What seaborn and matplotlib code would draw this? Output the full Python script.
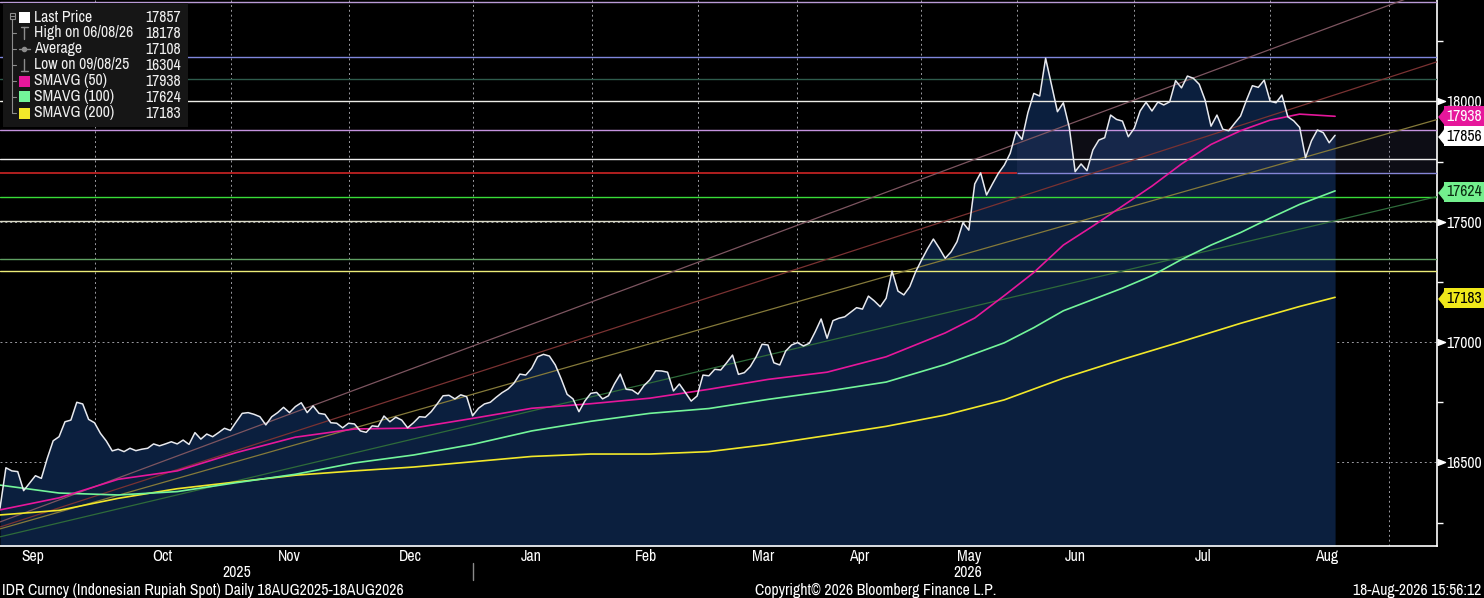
import numpy as np
import matplotlib.pyplot as plt
import matplotlib.transforms as mtransforms
from matplotlib import font_manager as fm
from matplotlib.lines import Line2D
from matplotlib.patches import Rectangle
import seaborn as sns

# IDR spot, one close per trading session
price = [
    16310, 16478, 16465, 16462, 16383, 16414, 16445, 16434, 16517, 16590,
    16607, 16669, 16676, 16750, 16743, 16679, 16665, 16621, 16589, 16548,
    16555, 16545, 16559, 16549, 16555, 16559, 16577, 16569, 16577, 16586,
    16577, 16593, 16575, 16624, 16597, 16618, 16607, 16624, 16642, 16633,
    16669, 16704, 16707, 16700, 16690, 16656, 16690, 16707, 16729, 16707,
    16732, 16748, 16707, 16735, 16704, 16700, 16665, 16663, 16644, 16663,
    16660, 16631, 16625, 16652, 16649, 16693, 16669, 16688, 16676, 16644,
    16665, 16690, 16688, 16711, 16743, 16777, 16779, 16764, 16781,
    16773, 16694, 16725, 16743, 16750, 16771, 16790, 16805, 16829, 16867,
    16863, 16891, 16939, 16949, 16942, 16905, 16847, 16783, 16764, 16711,
    16755, 16787, 16791, 16764, 16777, 16826, 16867, 16804, 16801, 16784,
    16819, 16843, 16881, 16880, 16875, 16797, 16826, 16791, 16755, 16776,
    16863, 16860, 16887, 16884, 16914, 16946, 16866, 16873, 16898, 16939,
    16991, 16988, 16914, 16905, 16963, 16988, 16998, 16984, 16995, 17043,
    17096, 17016, 17089, 17099, 17105, 17124, 17143, 17137, 17191, 17171,
    17147, 17182, 17295, 17212, 17196, 17230, 17292, 17341,
    17387, 17428, 17390, 17348, 17375, 17417, 17496, 17465, 17657, 17703,
    17611, 17657, 17701, 17735, 17784, 17874, 17842, 17953, 18033, 18022,
    18179, 18068, 17957, 17994, 17892, 17708, 17740, 17712, 17798, 17839,
    17849, 17943, 17925, 17918, 17853, 17888, 17960, 17996, 17960, 17997,
    17985, 17998, 18086, 18056, 18105, 18096, 18071, 18005, 17897, 17943,
    17884, 17878, 17909, 17939, 18005, 18065, 18058, 18088, 18001, 17994,
    18026, 17936, 17919, 17892, 17766, 17836, 17881, 17870, 17828, 17859,
]
days = np.arange(len(price))

# moving averages (session, value)
sma50_days = [0, 10, 20, 30, 40, 50, 60, 70, 80, 90, 100, 110, 120, 130, 140,
              150, 160, 165, 170, 175, 180, 185, 190, 195, 200, 205, 210, 215, 220, 226]
sma50 = [16303, 16353, 16430, 16465, 16541, 16605, 16639, 16643, 16683, 16725,
         16744, 16767, 16804, 16845, 16875, 16939, 17038, 17100, 17193, 17289,
         17403, 17482, 17565, 17648, 17740, 17821, 17878, 17922, 17947, 17938]
sma100_days = [0, 10, 20, 30, 40, 50, 60, 70, 80, 90, 100, 110, 120, 130, 140,
               150, 160, 170, 175, 180, 185, 190, 195, 200, 205, 210, 215, 220, 226]
sma100 = [16406, 16373, 16365, 16379, 16416, 16451, 16498, 16531, 16575, 16631,
          16671, 16704, 16724, 16762, 16796, 16834, 16907, 16997, 17060, 17130,
          17177, 17224, 17276, 17343, 17403, 17455, 17515, 17572, 17628]
sma200_days = [0, 10, 20, 30, 40, 50, 60, 70, 80, 90, 100, 110, 120, 130, 140,
               150, 160, 170, 180, 190, 200, 210, 215, 220, 226]
sma200 = [16282, 16301, 16351, 16391, 16419, 16447, 16465, 16481, 16503, 16525,
          16535, 16535, 16545, 16575, 16612, 16650, 16697, 16760, 16850, 16928,
          17002, 17078, 17113, 17148, 17186]

# horizontal levels drawn on the chart
level_values = [18411, 18183, 18091, 18000, 17881, 17759, 17604, 17501, 17345, 17294]
level_colors = ['#b99ad6', '#7f86dc', '#2e5b4c', '#ecece6', '#c493df', '#f0f0f0',
                '#38dc38', '#dcdcc8', '#5f9f62', '#ecec78']
split_level = 17703
band_low, band_high = 17703, 17881

# trend lines (value at first session, value at right edge)
x_end = 243.2
trend_start = [16253, 16232, 16224, 16191]
trend_end = [18473, 18164, 17924, 17604]
trend_colors = ['#7d5560', '#7a3232', '#857a3a', '#2e6b3a']

month_bounds = [16.1, 39.1, 59.0, 80.1, 100.2, 118.2, 134.9, 155.9, 172.2, 192.0, 215.0, 235.1]
month_centers = [5.5, 27.5, 49.0, 69.4, 89.9, 109.4, 129.2, 145.5, 164.0, 182.0, 203.6, 224.5]
month_names = ['Sep', 'Oct', 'Nov', 'Dec', 'Jan', 'Feb', 'Mar', 'Apr', 'May', 'Jun', 'Jul', 'Aug']
years = ['2025', '2026']
year_pos = [40.1, 163.9]

legend_names = ['Last Price', 'High on 06/08/26', 'Average', 'Low on 09/08/25',
                'SMAVG (50)', 'SMAVG (100)', 'SMAVG (200)']
legend_values = ['17857', '18178', '17108', '16304', '17938', '17624', '17183']

tag_values = [17938, 17856, 17624, 17183]
tag_face = ['#e6179b', '#ffffff', '#73f08e', '#f0e81a']
tag_text = ['#ffffff', '#000000', '#0a2a10', '#000000']

c_fill = '#0b1f3e'
c_sma50, c_sma100, c_sma200 = '#e6179b', '#73f59a', '#f2e82a'

sns.set_theme(style="dark", rc={"axes.facecolor": "black", "figure.facecolor": "black"})

# pick a narrow face if one is installed, Bloomberg's font is condensed
entries = fm.fontManager.ttflist
names = {f.name for f in entries}
narrow = sorted({f.name for f in entries if 'Narrow' in f.name or 'Condensed' in f.name})
fs = 11.3
if 'Liberation Sans Narrow' in names:
    plt.rcParams['font.family'] = ['Liberation Sans Narrow', 'DejaVu Sans']
elif narrow:
    plt.rcParams['font.family'] = [narrow[0], 'DejaVu Sans']
elif any(f.name == 'DejaVu Sans' and f.stretch != 'normal' for f in entries):
    plt.rcParams['font.family'] = ['DejaVu Sans']
    plt.rcParams['font.stretch'] = 'condensed'
    fs = 10
else:
    plt.rcParams['font.family'] = ['DejaVu Sans']
    fs = 9.0

W, H = 1484, 598
fig = plt.figure(figsize=(W / 100, H / 100), dpi=100)
ax = fig.add_axes([0, 52 / H, 1436.7 / W, 546 / H])
ax.set_facecolor('black')


def fx(px):
    return px / W


def fy(py):
    return 1 - py / H


ax.fill_between(days, price, 16000, color=c_fill, lw=0, zorder=1)
ax.fill_between([month_bounds[8], x_end], band_low, band_high, color='#5a5a90',
                alpha=0.15, lw=0, zorder=2)

for v, c in zip(level_values, level_colors):
    ax.axhline(v, color=c, lw=1.0, zorder=3)
ax.hlines(split_level, 0, month_bounds[8], color='#e02828', lw=1.1, zorder=3)
ax.hlines(split_level, month_bounds[8], x_end, color='#8585d6', lw=1.0, zorder=3)

for s, e, c in zip(trend_start, trend_end, trend_colors):
    sns.lineplot(x=[0, x_end], y=[s, e], color=c, lw=0.9, ax=ax, zorder=3)

sns.lineplot(x=sma200_days, y=sma200, color=c_sma200, lw=1.2, ax=ax, zorder=5)
sns.lineplot(x=sma100_days, y=sma100, color=c_sma100, lw=1.2, ax=ax, zorder=5)
sns.lineplot(x=sma50_days, y=sma50, color=c_sma50, lw=1.2, ax=ax, zorder=5)
sns.lineplot(x=days, y=price, color='#e8eaf0', lw=1.1, ax=ax, zorder=6)

ax.set_xlim(0, x_end)
ax.set_ylim(16153, 18421)
ax.set_xlabel('')
ax.set_ylabel('')

# x axis: month boundaries as ticks, names centred in between
ax.set_xticks(month_bounds)
ax.set_xticklabels([])
ax.set_xticks(month_centers, minor=True)
ax.set_xticklabels(month_names, minor=True)
ax.tick_params(axis='x', which='major', length=5, width=1, color='white', direction='out')
ax.tick_params(axis='x', which='minor', length=0, pad=2.5, labelcolor='white', labelsize=fs)
ax.grid(True, axis='x', which='major', color='#9a9aa0', ls=(0, (2, 3)), lw=0.7, zorder=2.5)

# y axis on the right
ax.yaxis.tick_right()
yt = [16500, 17000, 17500, 18000]
ax.set_yticks(yt)
ax.set_yticklabels([str(v) for v in yt])
ax.set_yticks([16250, 16750, 17250, 17750, 18250], minor=True)
ax.tick_params(axis='y', which='major', length=0, pad=7, labelcolor='white', labelsize=fs)
ax.tick_params(axis='y', which='minor', length=4, width=1, color='white', direction='out')
ax.grid(True, axis='y', which='major', color='#9a9aa0', ls=(0, (2, 3)), lw=0.7, zorder=2.5)

for side in ['top', 'left']:
    ax.spines[side].set_visible(False)
for side in ['right', 'bottom']:
    ax.spines[side].set_visible(True)
    ax.spines[side].set_color('white')
    ax.spines[side].set_linewidth(1.2)

blend_y = mtransforms.blended_transform_factory(ax.transAxes, ax.transData)
ax.plot([1.0] * len(yt), yt, ls='none', marker=[(0, -1), (2.6, 0), (0, 1)], ms=11.5,
        color='white', transform=blend_y, clip_on=False, zorder=10)

tri_tf = mtransforms.offset_copy(blend_y, fig=fig, x=7, units='dots')
txt_tf = mtransforms.offset_copy(blend_y, fig=fig, x=9.5, units='dots')
for v, fc, tc in zip(tag_values, tag_face, tag_text):
    ax.plot([1.0], [v], ls='none', marker=[(-0.8, 0), (0, -1), (0, 1)], ms=10.6,
            color=fc, transform=tri_tf, clip_on=False, zorder=10)
    ax.text(1.0, v, str(v), transform=txt_tf, ha='left', va='center', color=tc,
            fontsize=fs, zorder=11, clip_on=False,
            bbox=dict(boxstyle='square,pad=0.15', fc=fc, ec='none'))

# year row under the months
blend_x = mtransforms.blended_transform_factory(ax.transData, ax.transAxes)
for yr, p in zip(years, year_pos):
    ax.text(p, -0.048, yr, transform=blend_x, ha='center', va='center',
            color='white', fontsize=fs)
ax.plot([month_bounds[3], month_bounds[3]], [-0.031, -0.0623], transform=blend_x,
        color='#8a8a8a', lw=1, clip_on=False)

# footer
fig.text(fx(2), fy(590), 'IDR Curncy (Indonesian Rupiah Spot) Daily 18AUG2025-18AUG2026',
         ha='left', va='center', color='white', fontsize=fs)
fig.text(fx(755), fy(590), 'Copyright\u00a9 2026 Bloomberg Finance L.P.',
         ha='left', va='center', color='white', fontsize=fs)
fig.text(fx(1481), fy(590), '18-Aug-2026 15:56:12',
         ha='right', va='center', color='white', fontsize=fs)

# legend panel
fig.add_artist(Rectangle((fx(3), fy(127)), fx(185), 124 / H, transform=fig.transFigure,
                         fc='#161616', ec='none', zorder=20))
rows = [17, 33, 49, 65, 81, 97, 113]
grey = '#8c8c8c'
fig.add_artist(Rectangle((fx(9.5), fy(18.5)), fx(5.5), 6 / H, transform=fig.transFigure,
                         fc='none', ec=grey, lw=0.8, zorder=21))
fig.add_artist(Line2D([fx(10.5), fx(14)], [fy(15.5)] * 2, transform=fig.transFigure,
                      color=grey, lw=0.8, zorder=21))
fig.add_artist(Line2D([fx(12.3)] * 2, [fy(18.5), fy(rows[-1])], transform=fig.transFigure,
                      color=grey, lw=0.8, zorder=21))
for r in rows[1:]:
    fig.add_artist(Line2D([fx(12.3), fx(16)], [fy(r)] * 2, transform=fig.transFigure,
                          color=grey, lw=0.8, zorder=21))

square_colors = ['#ffffff', None, None, None, c_sma50, c_sma100, c_sma200]
for r, sc in zip(rows, square_colors):
    if sc is not None:
        fig.add_artist(Rectangle((fx(18.5), fy(r + 5.5)), fx(11), 11 / H,
                                 transform=fig.transFigure, fc=sc, ec='none', zorder=21))
# high / average / low glyphs
fig.add_artist(Line2D([fx(24.3)] * 2, [fy(rows[1] - 6), fy(rows[1] + 6)],
                      transform=fig.transFigure, color=grey, lw=1, zorder=21))
fig.add_artist(Line2D([fx(21), fx(27.5)], [fy(rows[1] - 6)] * 2,
                      transform=fig.transFigure, color=grey, lw=1, zorder=21))
fig.add_artist(Line2D([fx(18.5), fx(30)], [fy(rows[2])] * 2,
                      transform=fig.transFigure, color=grey, lw=1, zorder=21))
fig.add_artist(Line2D([fx(24.3)], [fy(rows[2])], transform=fig.transFigure, marker='o',
                      ms=3, color=grey, zorder=21))
fig.add_artist(Line2D([fx(24.3)] * 2, [fy(rows[3] - 6), fy(rows[3] + 6)],
                      transform=fig.transFigure, color=grey, lw=1, zorder=21))
fig.add_artist(Line2D([fx(21), fx(27.5)], [fy(rows[3] + 6)] * 2,
                      transform=fig.transFigure, color=grey, lw=1, zorder=21))

for r, name, val in zip(rows, legend_names, legend_values):
    fig.text(fx(34), fy(r), name, ha='left', va='center', color='#f0f0f0',
             fontsize=fs, zorder=22)
    fig.text(fx(181), fy(r), val, ha='right', va='center', color='#f0f0f0',
             fontsize=fs, zorder=22)

fig.savefig('out.png', dpi=100, facecolor='black')
